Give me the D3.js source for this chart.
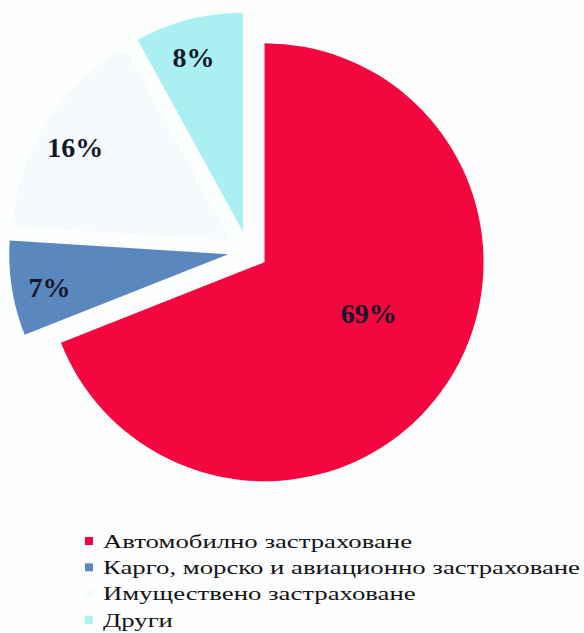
<!DOCTYPE html>
<html>
<head>
<meta charset="utf-8">
<script src="https://cdn.jsdelivr.net/npm/d3@7"></script>
<style>
  html, body { margin: 0; padding: 0; background: #fdfefe; }
  svg { display: block; }
</style>
</head>
<body>
<div id="chart"></div>
<script>
  const categories = [
    "Автомобилно застраховане",
    "Карго, морско и авиационно застраховане",
    "Имуществено застраховане",
    "Други"
  ];
  const values = [69, 7, 16, 8];
  const colors = ["#f4063f", "#5b87bf", "#f5fafc", "#aaf0f2"];

  const width = 584, height = 633;
  const cx = 248, cy = 251;
  const radius = 219;
  const explode = 20;

  const svg = d3.select("#chart").append("svg")
    .attr("width", width)
    .attr("height", height);

  const data = categories.map((c, i) => ({ name: c, value: values[i], color: colors[i] }));

  const pie = d3.pie().value(d => d.value).sort(null);
  const arcs = pie(data);
  const arc = d3.arc().innerRadius(0).outerRadius(radius);

  const g = svg.append("g").attr("transform", `translate(${cx},${cy})`);

  function offset(a, r, shift) {
    const m = (a.startAngle + a.endAngle) / 2 + (shift || 0);
    return [Math.sin(m) * r, -Math.cos(m) * r];
  }

  const slices = g.selectAll(".slice")
    .data(arcs)
    .enter()
    .append("g")
    .attr("class", "slice")
    .attr("transform", d => `translate(${offset(d, explode)})`);

  slices.append("path")
    .attr("d", arc)
    .attr("fill", d => d.data.color);

  // labels: big slice nearer the tip, small slices near the rim
  slices.append("text")
    .attr("transform", d => {
      const big = d.data.value > 50;
      const k = big ? 0.53 : 0.83;
      const shift = big ? -0.14 : -0.025;
      return `translate(${offset(d, radius * k, shift)})`;
    })
    .attr("text-anchor", "middle")
    .attr("dy", "0.35em")
    .style("font-family", "'Liberation Serif', 'Times New Roman', serif")
    .style("font-weight", "bold")
    .style("font-size", "28px")
    .style("fill", "#16182a")
    .text(d => d.data.value + "%");

  // legend
  const legend = svg.append("g").attr("transform", "translate(85,541)");
  const rowH = 26.3;

  const rows = legend.selectAll(".row")
    .data(data)
    .enter()
    .append("g")
    .attr("transform", (d, i) => `translate(0,${i * rowH})`);

  rows.append("rect")
    .attr("x", 0)
    .attr("y", -4)
    .attr("width", 8)
    .attr("height", 8)
    .attr("fill", d => d.color);

  const labels = rows.append("text")
    .attr("x", 18)
    .attr("dy", "0.35em")
    .style("font-family", "'Liberation Serif', 'Times New Roman', serif")
    .style("font-size", "19px")
    .style("fill", "#141418")
    .text(d => d.name);

  // the original legend is stretched wide; widen to match
  const longest = labels.nodes()[1].getComputedTextLength();
  const stretch = 477 / longest;
  labels.each(function () {
    const w = this.getComputedTextLength();
    d3.select(this)
      .attr("textLength", w * stretch)
      .attr("lengthAdjust", "spacingAndGlyphs");
  });
</script>
</body>
</html>
